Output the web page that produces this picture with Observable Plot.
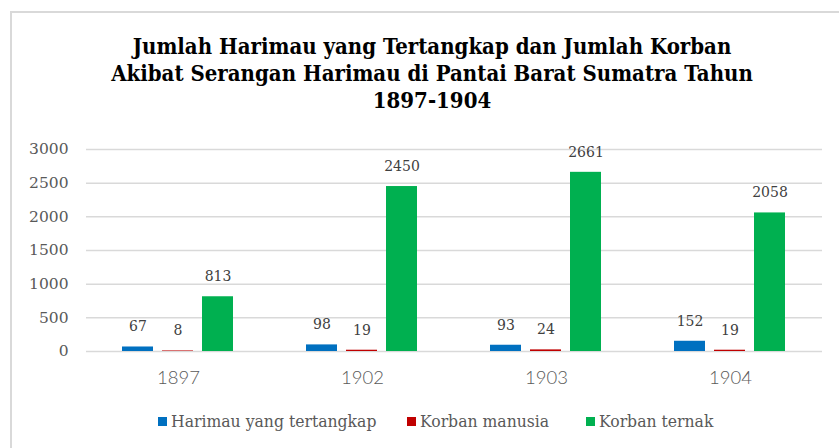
<!DOCTYPE html>
<html>
<head>
<meta charset="utf-8">
<script src="https://cdn.jsdelivr.net/npm/d3@7"></script>
<script src="https://cdn.jsdelivr.net/npm/@observablehq/plot@0.6"></script>
<style>
  html, body { margin: 0; padding: 0; background: #fff; width: 839px; height: 448px; overflow: hidden; }
  #frame { position: absolute; left: 10px; top: 11px; width: 900px; height: 500px; border: 2px solid #d9d9d9; box-sizing: border-box; }
  #title { position: absolute; top: 33px; left: 32px; width: 800px; text-align: center;
           font-family: "DejaVu Serif", "Liberation Serif", serif; font-stretch: condensed; font-weight: bold;
           font-size: 22px; line-height: 27px; color: #000; }
  #chart { position: absolute; left: 0; top: 130px; }
  .leg { position: absolute; top: 411px; font-family: "DejaVu Serif", "Liberation Serif", serif; font-stretch: condensed;
         font-size: 17.4px; color: #595959; white-space: nowrap; display: flex; align-items: center; }
  .sw { width: 9px; height: 9px; display: inline-block; margin-right: 4px; }
</style>
</head>
<body>
<div id="frame"></div>
<div id="title">Jumlah Harimau yang Tertangkap dan Jumlah Korban<br>Akibat Serangan Harimau di Pantai Barat Sumatra Tahun<br>1897-1904</div>
<div id="chart"></div>
<div id="legend"></div>
<script>
const years = ["1897", "1902", "1903", "1904"];
const seriesNames = ["Harimau yang tertangkap", "Korban manusia", "Korban ternak"];
const tigersCaught = [67, 98, 93, 152];
const humanVictims = [8, 19, 24, 19];
const livestockVictims = [813, 2450, 2661, 2058];
const seriesColors = ["#0070c0", "#c00000", "#00b050"];
const yTicks = [0, 500, 1000, 1500, 2000, 2500, 3000];

const seriesValues = [tigersCaught, humanVictims, livestockVictims];
const data = years.flatMap((year, i) =>
  seriesNames.map((s, j) => ({year, series: s, value: seriesValues[j][i]}))
);

const chart = Plot.plot({
  width: 839,
  height: 260,
  marginLeft: 86,
  marginRight: 17,
  marginTop: 19,
  marginBottom: 39,
  fx: {domain: years, padding: 0, label: null},
  x: {domain: seriesNames, paddingInner: 0.2195, paddingOuter: 0.854, axis: null},
  y: {domain: [0, 3000], label: null, axis: null},
  color: {domain: seriesNames, range: seriesColors},
  style: {background: "transparent", overflow: "visible"},
  marks: [
    Plot.ruleY(yTicks, {stroke: "#d9d9d9", strokeWidth: 1.5}),
    Plot.axisY({ticks: yTicks, tickSize: 0, tickPadding: 18, fontSize: 15.5, fontFamily: "DejaVu Serif",
                fill: "#595959", label: null, tickFormat: d => String(d)}),
    Plot.axisFx({anchor: "bottom", tickSize: 0, tickPadding: 19, fontSize: 18.5, fontFamily: "Lato",
                 fontWeight: 300, fill: "#595959", label: null}),
    Plot.barY(data, {fx: "year", x: "series", y: "value", fill: "series"}),
    Plot.text(data, {fx: "year", x: "series", y: "value", text: d => String(d.value), dy: -20,
                     fontSize: 14, fontFamily: "DejaVu Serif", fill: "#404040"})
  ]
});
document.getElementById("chart").appendChild(chart);

const legendLefts = [158, 407, 586];
const legend = document.getElementById("legend");
seriesNames.forEach((name, i) => {
  const item = document.createElement("div");
  item.className = "leg";
  item.style.left = legendLefts[i] + "px";
  const sw = document.createElement("span");
  sw.className = "sw";
  sw.style.background = seriesColors[i];
  item.appendChild(sw);
  item.appendChild(document.createTextNode(name));
  legend.appendChild(item);
});
</script>
</body>
</html>
